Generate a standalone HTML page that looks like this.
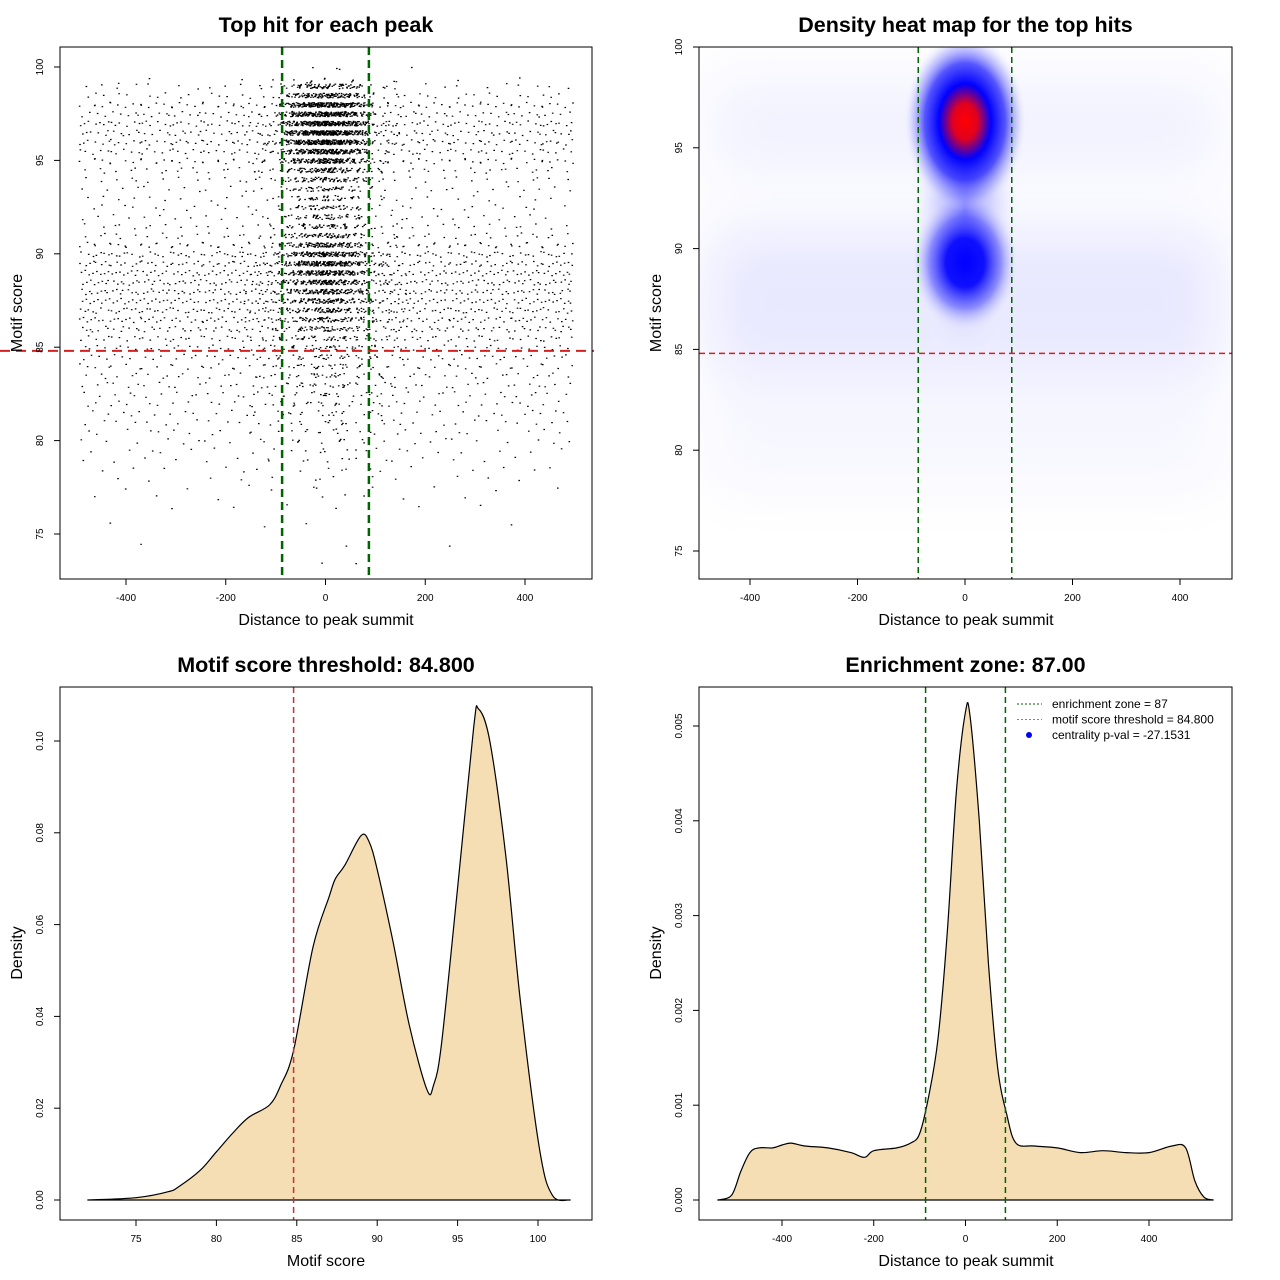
<!DOCTYPE html>
<html><head><meta charset="utf-8"><style>
html,body{margin:0;padding:0;background:#fff;}
svg{display:block;font-family:"Liberation Sans",sans-serif;}
</style></head><body>
<svg id="s" width="1280" height="1280" viewBox="0 0 1280 1280" xmlns="http://www.w3.org/2000/svg">
<defs>
<filter id="blur2" x="-50%" y="-50%" width="200%" height="200%"><feGaussianBlur stdDeviation="30"/></filter>
<radialGradient id="gTop">
<stop offset="0" stop-color="#ff0000"/>
<stop offset="0.2" stop-color="#e00020"/>
<stop offset="0.42" stop-color="#0000ff"/>
<stop offset="0.65" stop-color="#2020ff" stop-opacity="0.75"/>
<stop offset="0.85" stop-color="#8080ff" stop-opacity="0.3"/>
<stop offset="1" stop-color="#ffffff" stop-opacity="0"/>
</radialGradient>
<radialGradient id="gMid">
<stop offset="0" stop-color="#0000ff"/>
<stop offset="0.35" stop-color="#1010ff"/>
<stop offset="0.65" stop-color="#5050ff" stop-opacity="0.6"/>
<stop offset="1" stop-color="#ffffff" stop-opacity="0"/>
</radialGradient>
<radialGradient id="gCol">
<stop offset="0" stop-color="#7070ff"/>
<stop offset="1" stop-color="#ffffff" stop-opacity="0"/>
</radialGradient>
<clipPath id="c2"><rect x="699" y="47" width="533" height="532"/></clipPath>
</defs>
<rect width="1280" height="1280" fill="#fff"/>
<g id="p1"></g>
<g id="p2"></g>
<g id="p3"></g>
<g id="p4"></g>
</svg>
<script>
// ---- data ----
const scoreRows = [73.5,74.5,75.5,76.5,77,77.5,78,78.5,79,79.5,80,80.5,81,81.5,82,82.5,83,83.5,84,84.5,85,85.5,86,86.5,87,87.5,88,88.5,89,89.5,90,90.5,91,91.5,92,92.5,93,93.5,94,94.5,95,95.5,96,96.5,97,97.5,98,98.5,99,99.3,100];
const flankCounts = [1,2,3,5,6,8,10,13,15,18,24,26,30,34,36,40,44,48,52,58,66,80,100,115,120,125,128,128,125,118,108,80,50,38,30,30,26,30,36,50,75,80,100,90,100,75,80,40,28,8,1];
const centralCounts = [1,1,1,1,2,2,3,4,5,6,8,9,10,12,14,15,18,20,22,24,28,35,55,70,85,100,130,150,170,180,170,120,75,55,50,50,45,50,80,110,170,220,280,300,290,260,250,130,80,10,3];
const scoreDensX = [72,75,77,77.7,79,80,81,82,83.3,84,84.8,86,87,87.4,88,89,89.5,90,91,92,93.1,93.5,94,95,96,96.3,97,98,98.9,100.1,100.9,102];
const scoreDensY = [0,0.0005,0.0018,0.003,0.0065,0.0105,0.0145,0.018,0.0207,0.025,0.0326,0.055,0.066,0.070,0.073,0.0794,0.078,0.072,0.056,0.038,0.024,0.025,0.034,0.068,0.103,0.107,0.100,0.075,0.0435,0.011,0.001,0];
const distDensX = [-540,-510,-490,-470,-450,-420,-400,-380,-350,-300,-250,-220,-200,-150,-120,-100,-80,-60,-40,-20,0,10,30,50,70,90,110,150,200,250,300,350,400,450,480,500,520,540];
const distDensY = [0,0.00005,0.0003,0.0005,0.00055,0.00055,0.00058,0.0006,0.00057,0.00055,0.0005,0.00045,0.00052,0.00055,0.0006,0.0007,0.0011,0.0017,0.0028,0.0043,0.00515,0.0051,0.0040,0.0025,0.0014,0.0009,0.0006,0.00057,0.00055,0.0005,0.00052,0.0005,0.0005,0.00057,0.00055,0.0002,0.00003,0];
const xTicksDist = [-400,-200,0,200,400];
const yTicksScore = [75,80,85,90,95,100];
const xTicksScore = [75,80,85,90,95,100];
const yTicksD3 = [0,0.02,0.04,0.06,0.08,0.10];
const yTicksD4 = [0,0.001,0.002,0.003,0.004,0.005];
const threshold = 84.8;
const zone = 87;
// ---- helpers ----
const NS="http://www.w3.org/2000/svg";
function mk(p,tag,a){const e=document.createElementNS(NS,tag);for(const k in a)e.setAttribute(k,a[k]);p.appendChild(e);return e;}
function lin(d0,d1,r0,r1){return v=>r0+(v-d0)*(r1-r0)/(d1-d0);}
function frame(g,x0,y0,x1,y1,title){
  const r=mk(g,'rect',{x:x0,y:y0,width:x1-x0,height:y1-y0,fill:'none',stroke:'#000','stroke-width':1});
  
  const t=mk(g,'text',{x:(x0+x1)/2,y:y0-15,'text-anchor':'middle','font-size':21.5,'font-weight':'bold'});
  
  t.textContent=title;
}
function xaxis(g,ticks,sx,y1,label,cx){
  ticks.forEach(v=>{const x=sx(v);mk(g,'line',{x1:x,x2:x,y1:y1,y2:y1+6,stroke:'#000'});
    const t=mk(g,'text',{x:x,y:y1+22,'text-anchor':'middle','font-size':10});
    t.textContent=v;});
  const l=mk(g,'text',{x:cx,y:y1+46,'text-anchor':'middle','font-size':16});
  l.textContent=label;
}
function yaxis(g,ticks,sy,x0,label,fmt,ly){
  ticks.forEach(v=>{const y=sy(v);mk(g,'line',{x1:x0-6,x2:x0,y1:y,y2:y,stroke:'#000'});
    const t=mk(g,'text',{x:0,y:0,'text-anchor':'middle','font-size':10,transform:`translate(${x0-17},${y}) rotate(-90)`});
    t.textContent=fmt?fmt(v):v;});
  const l=mk(g,'text',{x:0,y:0,'text-anchor':'middle','font-size':16,transform:`translate(${x0-38},${ly}) rotate(-90)`});
  l.textContent=label;
}
function vline(g,x,y0,y1,col,w,dash,name){const e=mk(g,'line',{x1:x,x2:x,y1:y0,y2:y1,stroke:col,'stroke-width':w,'stroke-dasharray':dash});}
function hline(g,y,x0,x1,col,w,dash,name){const e=mk(g,'line',{x1:x0,x2:x1,y1:y,y2:y,stroke:col,'stroke-width':w,'stroke-dasharray':dash});}
function halton(i,b){let f=1,r=0;while(i>0){f/=b;r+=f*(i%b);i=Math.floor(i/b);}return r;}
function smooth(pts){let d=`M${pts[0][0].toFixed(1)} ${pts[0][1].toFixed(1)}`;
  for(let i=0;i<pts.length-1;i++){const p0=pts[Math.max(0,i-1)],p1=pts[i],p2=pts[i+1],p3=pts[Math.min(pts.length-1,i+2)];
    const c1x=p1[0]+(p2[0]-p0[0])/6,c1y=p1[1]+(p2[1]-p0[1])/6,c2x=p2[0]-(p3[0]-p1[0])/6,c2y=p2[1]-(p3[1]-p1[1])/6;
    d+=`C${c1x.toFixed(1)} ${c1y.toFixed(1)} ${c2x.toFixed(1)} ${c2y.toFixed(1)} ${p2[0].toFixed(1)} ${p2[1].toFixed(1)}`;}
  return d;}

// ---- panel 1 scatter ----
(function(){
  const g=document.getElementById('p1');
  const sx=lin(-400,400,126,525), sy=lin(75,100,534,67);
  let idx=1, path='';
  scoreRows.forEach((s,ri)=>{
    for(let k=0;k<flankCounts[ri];k++){
      const u=halton(idx,2), w=halton(idx,3); idx++;
      let x=-495+u*990; if(Math.abs(x)<90) x = x<0? x-90*(1-w): x+90*(1-w);
      const y=s+(w-0.5)*0.3;
      path+=`M${sx(x).toFixed(1)} ${sy(y).toFixed(1)}h1.6v1.2h-1.6z`;
    }
    for(let k=0;k<centralCounts[ri];k++){
      const u=halton(idx,2), w=halton(idx,3), z=halton(idx,5); idx++;
      const x=(u+w-1)*100;
      const y=s+(z-0.5)*0.25;
      path+=`M${sx(x).toFixed(1)} ${sy(y).toFixed(1)}h1.6v1.2h-1.6z`;
    }
  });
  const p=mk(g,'path',{d:path,fill:'#000'});
  
  vline(g,sx(-zone),47,579,'#006400',2.5,'8 5','zone-line-left');
  vline(g,sx(zone),47,579,'#006400',2.5,'8 5','zone-line-right');
  hline(g,sy(threshold),0,594,'#d62020',2,'10 6','threshold-line');
  frame(g,60,47,592,579,'Top hit for each peak');
  xaxis(g,xTicksDist,sx,579,'Distance to peak summit',326);
  yaxis(g,yTicksScore,sy,60,'Motif score',null,313);
})();

// ---- panel 2 heatmap ----
(function(){
  const g=document.getElementById('p2');
  const sx=lin(-400,400,750,1180), sy=lin(75,100,551,47);
  const hg=mk(g,'g',{'clip-path':'url(#c2)'});
  
  const faint=mk(hg,'g',{filter:'url(#blur2)'});
  mk(faint,'rect',{x:sx(-480),y:sy(91),width:sx(480)-sx(-480),height:sy(84)-sy(91),fill:'#e8e8ff'});
  mk(faint,'rect',{x:sx(-480),y:sy(98.5),width:sx(480)-sx(-480),height:sy(93.5)-sy(98.5),fill:'#f2f2ff'});
  mk(faint,'rect',{x:sx(-480),y:sy(84),width:sx(480)-sx(-480),height:sy(78)-sy(84),fill:'#f7f7ff'});
  mk(hg,'ellipse',{cx:sx(0),cy:sy(92),rx:58,ry:170,fill:'url(#gCol)'});
  mk(hg,'ellipse',{cx:sx(0),cy:sy(89.3),rx:55,ry:70,fill:'url(#gMid)'});
  mk(hg,'ellipse',{cx:sx(0),cy:sy(96.3),rx:62,ry:90,fill:'url(#gTop)'});
  vline(g,sx(-zone),47,579,'#006400',1.5,'6 4','zone-line-left');
  vline(g,sx(zone),47,579,'#006400',1.5,'6 4','zone-line-right');
  hline(g,sy(threshold),699,1232,'#d62020',1.5,'6 4','threshold-line');
  frame(g,699,47,1232,579,'Density heat map for the top hits');
  xaxis(g,xTicksDist,sx,579,'Distance to peak summit',966);
  yaxis(g,yTicksScore,sy,699,'Motif score',null,313);
})();

// ---- panel 3 ----
(function(){
  const g=document.getElementById('p3');
  const sx=lin(75,100,136,538), sy=lin(0,0.1,1200,741);
  const pts=scoreDensX.map((x,i)=>[sx(x),sy(scoreDensY[i])]);
  const d=smooth(pts)+'Z';
  const p=mk(g,'path',{d:d,fill:'#f5deb3',stroke:'#000','stroke-width':1.2,'stroke-linejoin':'round'});
  
  vline(g,sx(threshold),687,1220,'#c83030',1.5,'6 4','threshold-line');
  frame(g,60,687,592,1220,'Motif score threshold: 84.800');
  xaxis(g,xTicksScore,sx,1220,'Motif score',326);
  yaxis(g,yTicksD3,sy,60,'Density',v=>v.toFixed(2),953);
})();

// ---- panel 4 ----
(function(){
  const g=document.getElementById('p4');
  const sx=lin(-400,400,782,1149), sy=lin(0,0.005,1200,726);
  const pts=distDensX.map((x,i)=>[sx(x),sy(distDensY[i])]);
  const d=smooth(pts)+'Z';
  const p=mk(g,'path',{d:d,fill:'#f5deb3',stroke:'#000','stroke-width':1.2,'stroke-linejoin':'round'});
  
  vline(g,sx(-zone),687,1220,'#006400',1.5,'6 4','zone-line-left');
  vline(g,sx(zone),687,1220,'#006400',1.5,'6 4','zone-line-right');
  frame(g,699,687,1232,1220,'Enrichment zone: 87.00');
  xaxis(g,xTicksDist,sx,1220,'Distance to peak summit',966);
  yaxis(g,yTicksD4,sy,699,'Density',v=>v.toFixed(3),953);
  const lg=mk(g,'g',{});
  const items=[['enrichment zone = 87','#006400','line'],['motif score threshold = 84.800','#ff5050','line'],['centrality p-val = -27.1531','#0000ff','dot']];
  items.forEach((it,i)=>{const y=704+i*15.5;
    if(it[2]==='line') mk(lg,'line',{x1:1017,x2:1042,y1:y,y2:y,stroke:it[1],'stroke-width':1,'stroke-dasharray':'2 2'});
    else mk(lg,'circle',{cx:1029,cy:y,r:3,fill:it[1]});
    const t=mk(lg,'text',{x:1052,y:y+4,'font-size':12});
    t.textContent=it[0];});
})();
</script>
</body></html>
